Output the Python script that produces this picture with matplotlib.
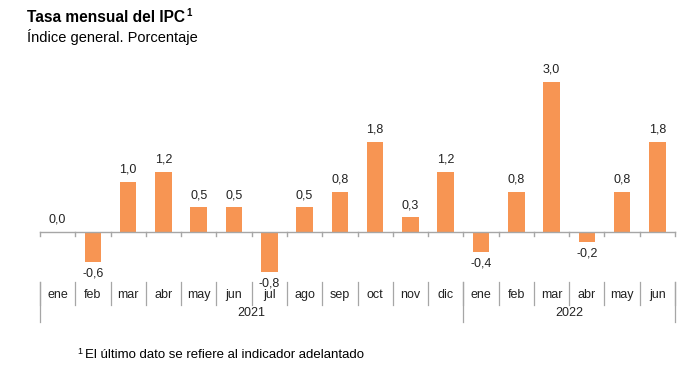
import matplotlib
matplotlib.use('Agg')
import matplotlib.pyplot as plt

plt.rcParams['font.family'] = ['Liberation Sans', 'DejaVu Sans']

# Data
months = ['ene', 'feb', 'mar', 'abr', 'may', 'jun', 'jul', 'ago', 'sep', 'oct', 'nov', 'dic',
          'ene', 'feb', 'mar', 'abr', 'may', 'jun']
values = [0.0, -0.6, 1.0, 1.2, 0.5, 0.5, -0.8, 0.5, 0.8, 1.8, 0.3, 1.2,
          -0.4, 0.8, 3.0, -0.2, 0.8, 1.8]
years = ['2021', '2022']
year_counts = [12, 6]

bar_color = '#F79553'
line_color = '#A6A6A6'

W, H = 696, 379
fig = plt.figure(figsize=(W / 100, H / 100), dpi=100)

# axes placed in pixel space: x 40..675, y 72..282 (zero at 232, 50 px per unit)
x0, x1, ytop, ybot = 40, 675, 72, 282
ax = fig.add_axes([x0 / W, 1 - ybot / H, (x1 - x0) / W, (ybot - ytop) / H])
n = len(months)
ax.set_xlim(-0.5, n - 0.5)
ax.set_ylim(-1.0, 3.2)
ax.axis('off')

xs = list(range(n))
ax.bar(xs, values, width=0.47, color=bar_color, zorder=2)

# zero line and small ticks
ax.plot([-0.5, n - 0.5], [0, 0], color=line_color, lw=1, zorder=3, clip_on=False)
for b in range(n + 1):
    ax.plot([b - 0.5, b - 0.5], [0, -0.07], color=line_color, lw=1, zorder=3, clip_on=False)

# value labels
for x, v in zip(xs, values):
    lab = f'{v:.1f}'.replace('.', ',')
    if v >= 0:
        ax.text(x, v + 0.12, lab, ha='center', va='bottom', fontsize=9, color='#222222')
    else:
        ax.text(x, v - 0.12, lab, ha='center', va='top', fontsize=9, color='#222222')

# category axis
for x, m in zip(xs, months):
    ax.text(x, -1.26, m, ha='center', va='center', fontsize=9, color='#222222', clip_on=False)
for b in range(n + 1):
    ax.plot([b - 0.5, b - 0.5], [-1.0, -1.46], color=line_color, lw=0.9, clip_on=False)

start = 0
for yr, cnt in zip(years, year_counts):
    ax.text(start + cnt / 2 - 0.5, -1.62, yr, ha='center', va='center', fontsize=9,
            color='#222222', clip_on=False)
    start += cnt
bounds = [0]
for cnt in year_counts:
    bounds.append(bounds[-1] + cnt)
for b in bounds:
    ax.plot([b - 0.5, b - 0.5], [-1.0, -1.8], color=line_color, lw=0.9, clip_on=False)

# titles
fig.text(27 / W, 1 - 18 / H, 'Tasa mensual del IPC', fontsize=11.2, fontweight='bold',
         va='center', ha='left')
fig.text(186 / W, 1 - 13 / H, '1', fontsize=7, fontweight='bold', va='center', ha='left')
fig.text(27 / W, 1 - 37 / H, 'Índice general. Porcentaje', fontsize=10.5, va='center', ha='left')
fig.text(77 / W, 1 - 352 / H, '1', fontsize=6.5, va='center', ha='left')
fig.text(85 / W, 1 - 355 / H, 'El último dato se refiere al indicador adelantado', fontsize=9.5,
         va='center', ha='left')

plt.savefig('out.png', dpi=100)
